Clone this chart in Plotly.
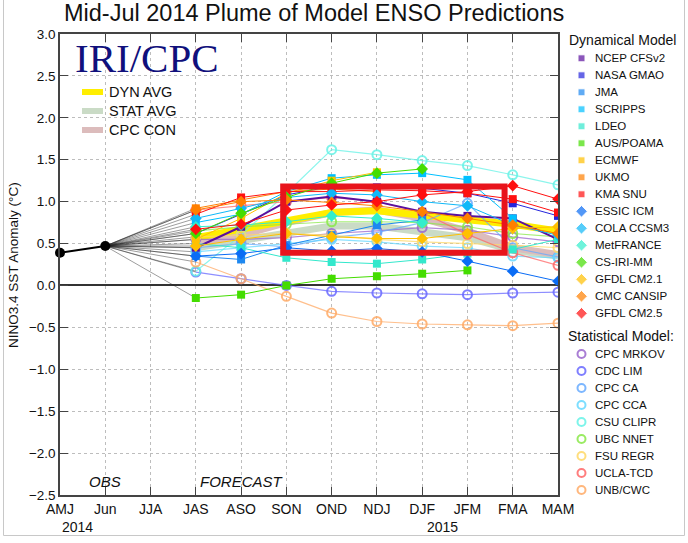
import plotly.graph_objects as go

# ---------------- data ----------------
seasons = ["AMJ", "Jun", "JJA", "JAS", "ASO", "SON", "OND", "NDJ", "DJF", "JFM", "FMA", "MAM"]
year_labels = ["2014", "2015"]
obs_values = [0.39, 0.47]          # AMJ, Jun observed
FIRST_FCST = 3                      # JAS index

# Dynamical models (values from JAS onward)
ncep_cfsv2 = [0.45, 0.70, 1.00, 1.06, 1.00, 0.88, 0.83, 0.80, 0.55]
nasa_gmao = [0.62, 0.85, 1.08, 1.18, 1.17, 1.16, 1.10, 0.98, 0.83]
jma = [0.35, 0.31, 0.48, 0.60, 0.72, 0.78]
scripps = [0.75, 0.85, 1.12, 1.28, 1.32, 1.34, 1.26, 0.80]
ldeo = [0.50, 0.45, 0.33, 0.28, 0.26, 0.31, 0.38, 0.43, 0.55]
aus_poama = [-0.15, -0.11, 0.00, 0.08, 0.11, 0.14, 0.18]
ecmwf = [0.55, 0.80, 1.10, 1.25, 1.35]
ukmo = [0.92, 1.02, 1.12, 1.15, 1.12]
kma_snu = [0.85, 1.05, 1.12, 1.12, 1.14, 1.13, 1.10, 1.03, 0.87]
essic_icm = [0.35, 0.38, 0.45, 0.41, 0.44, 0.40, 0.29, 0.17, 0.05]
cola_ccsm3 = [0.80, 0.92, 1.05, 1.10, 1.08, 1.00, 0.95, 0.72, 0.60]
metfrance = [0.70, 0.72, 0.76, 0.83, 0.80, 0.75]
cs_iri_mm = [0.62, 0.86, 1.05, 1.22, 1.34, 1.39]
gfdl_cm21 = [0.47, 0.55, 0.62, 0.58, 0.56, 0.56, 0.62, 0.68, 0.70]
cmc_cansip = [0.90, 1.00, 1.02, 0.99, 0.95, 0.88, 0.80, 0.72, 0.62]
gfdl_cm25 = [0.67, 0.73, 0.90, 0.96, 1.00, 1.08, 1.12, 1.19, 1.03]

# Statistical models
cpc_mrkov = [0.55, 0.55, 0.57, 0.62, 0.65, 0.69, 0.66, 0.58, 0.52]
cdc_lim = [0.16, 0.08, 0.00, -0.07, -0.09, -0.10, -0.11, -0.09, -0.08]
cpc_ca = [0.45, 0.50, 0.46, 0.57, 0.63, 0.75, 0.98, 0.45, 0.34]
cpc_cca = [0.40, 0.45, 0.50, 0.55, 0.52, 0.47, 0.45, 0.35, 0.33]
csu_clipr = [0.17, 0.60, 1.10, 1.62, 1.56, 1.49, 1.43, 1.32, 1.20]
ubc_nnet = [0.65, 0.70, 0.73, 0.76, 0.76, 0.75, 0.70, 0.62, 0.58]
fsu_regr = [0.58, 0.60, 0.62, 0.60, 0.55, 0.52, 0.50, 0.48, 0.45]
ucla_tcd = [0.90, 0.95, 1.00, 1.05, 1.00, 0.87, 0.61, 0.39, 0.24]
unb_cwc = [0.28, 0.08, -0.13, -0.33, -0.43, -0.46, -0.47, -0.48, -0.45]

# Averages
dyn_avg = [0.57, 0.67, 0.77, 0.87, 0.89, 0.84, 0.79, 0.73, 0.65]
stat_avg = [0.45, 0.53, 0.62, 0.71, 0.71, 0.65, 0.57, 0.42, 0.35]
cpc_con = [0.50, 0.60, 0.75, 0.87, 0.90, 0.80, 0.65, 0.45, 0.37]

highlight_box = [4.93, 9.82, 0.39, 1.18]   # x0, x1 (season index), y0, y1 (anomaly)

# ---------------- styles ----------------
dyn_models = [
    ("NCEP CFSv2", ncep_cfsv2, "#5b0f9e", "square"),
    ("NASA GMAO", nasa_gmao, "#2424dc", "square"),
    ("JMA", jma, "#1e88f0", "square"),
    ("SCRIPPS", scripps, "#00c0ff", "square"),
    ("LDEO", ldeo, "#33e8cc", "square"),
    ("AUS/POAMA", aus_poama, "#44dd00", "square"),
    ("ECMWF", ecmwf, "#ffc000", "square"),
    ("UKMO", ukmo, "#ff8000", "square"),
    ("KMA SNU", kma_snu, "#ff1010", "square"),
    ("ESSIC ICM", essic_icm, "#0a6cf5", "diamond"),
    ("COLA CCSM3", cola_ccsm3, "#10b8f8", "diamond"),
    ("MetFRANCE", metfrance, "#33eecc", "diamond"),
    ("CS-IRI-MM", cs_iri_mm, "#44dd00", "diamond"),
    ("GFDL CM2.1", gfdl_cm21, "#ffc000", "diamond"),
    ("CMC CANSIP", cmc_cansip, "#ff8000", "diamond"),
    ("GFDL CM2.5", gfdl_cm25, "#ff1010", "diamond"),
]
stat_models = [
    ("CPC MRKOV", cpc_mrkov, "#9a66cc"),
    ("CDC LIM", cdc_lim, "#6868ff"),
    ("CPC CA", cpc_ca, "#66aaff"),
    ("CPC CCA", cpc_cca, "#66d8ff"),
    ("CSU CLIPR", csu_clipr, "#66f2e6"),
    ("UBC NNET", ubc_nnet, "#88e848"),
    ("FSU REGR", fsu_regr, "#ffd866"),
    ("UCLA-TCD", ucla_tcd, "#ff6666"),
    ("UNB/CWC", unb_cwc, "#ffaa66"),
]

W, H = 688, 543
PL, PR, PT, PB = 60, 558, 34, 495      # plot area in pixels
FONT = "Liberation Sans, Arial, sans-serif"

def rgba(hexc, a):
    h = hexc.lstrip("#")
    return "rgba(%d,%d,%d,%.2f)" % (int(h[0:2], 16), int(h[2:4], 16), int(h[4:6], 16), a)

fig = go.Figure()

def fx(vals):
    return list(range(FIRST_FCST, FIRST_FCST + len(vals)))

# connectors from last observation to first forecast
for name, vals, col, sym in dyn_models:
    fig.add_trace(go.Scatter(x=[FIRST_FCST - 2, FIRST_FCST], y=[obs_values[-1], vals[0]], mode="lines",
                             line=dict(color="rgba(30,30,30,0.55)", width=0.8), hoverinfo="skip"))
for name, vals, col in stat_models:
    fig.add_trace(go.Scatter(x=[FIRST_FCST - 2, FIRST_FCST], y=[obs_values[-1], vals[0]], mode="lines",
                             line=dict(color="rgba(30,30,30,0.55)", width=0.8), hoverinfo="skip"))

# averages
avg_styles = [("STAT AVG", stat_avg, "#cadbc6", 7), ("CPC CON", cpc_con, "#dcbcbc", 7),
              ("DYN AVG", dyn_avg, "#ffee00", 7)]
for name, vals, col, w in avg_styles:
    fig.add_trace(go.Scatter(x=fx(vals), y=vals, mode="lines", line=dict(color=col, width=w), name=name))

# statistical models
for name, vals, col in stat_models:
    fig.add_trace(go.Scatter(x=fx(vals), y=vals, mode="lines+markers", name=name,
                             line=dict(color=rgba(col, 0.75), width=1.2),
                             marker=dict(symbol="circle-open", size=9, color=rgba(col, 0.85),
                                         line=dict(width=2, color=rgba(col, 0.85)))))
# dynamical models
for name, vals, col, sym in dyn_models:
    fig.add_trace(go.Scatter(x=fx(vals), y=vals, mode="lines+markers", name=name,
                             line=dict(color=col, width=2 if name == "NCEP CFSv2" else 1),
                             marker=dict(symbol=sym, size=8 if sym == "square" else 9, color=col)))

# observations
fig.add_trace(go.Scatter(x=list(range(len(obs_values))), y=obs_values, mode="lines+markers",
                         line=dict(color="black", width=2), marker=dict(color="black", size=10),
                         cliponaxis=False, name="OBS"))

# ---------------- overlay (pixel) axes for legends / text ----------------
dyn_rows = [58.3 + 17.0 * k for k in range(len(dyn_models))]
stat_head_y = dyn_rows[-1] + 22.7
stat_rows = [stat_head_y + 18 + 17.0 * k for k in range(len(stat_models))]
LEG_MX, LEG_TX = 581.5, 594

fig.add_trace(go.Scatter(x=[LEG_MX] * len(dyn_models), y=dyn_rows, mode="markers", xaxis="x3", yaxis="y3",
                         marker=dict(symbol=[m[3] for m in dyn_models], color=[m[2] for m in dyn_models],
                                     size=[7 if m[3] == "square" else 9 for m in dyn_models]),
                         hoverinfo="skip"))
fig.add_trace(go.Scatter(x=[LEG_MX] * len(stat_models), y=stat_rows, mode="markers", xaxis="x3", yaxis="y3",
                         marker=dict(symbol="circle-open", size=8, color=[rgba(m[2], 0.85) for m in stat_models],
                                     line=dict(width=2, color=[rgba(m[2], 0.85) for m in stat_models])),
                         hoverinfo="skip"))

inner_rows = [92, 111, 130]
inner_items = [("DYN AVG", "#ffee00"), ("STAT AVG", "#cadbc6"), ("CPC CON", "#dcbcbc")]
for (label, col), yy in zip(inner_items, inner_rows):
    fig.add_trace(go.Scatter(x=[82, 103], y=[yy, yy], mode="lines", xaxis="x3", yaxis="y3",
                             line=dict(color=col, width=6), hoverinfo="skip"))

annotations = []
def txt(x, y, s, size, xanchor="left", color="#111", family=FONT, italic=False, angle=0):
    annotations.append(dict(x=x, y=y, xref="x3", yref="y3", text=("<i>%s</i>" % s) if italic else s,
                            showarrow=False, xanchor=xanchor, yanchor="middle", textangle=angle,
                            borderpad=0, font=dict(size=size, color=color, family=family)))

txt(314, 13, "Mid-Jul 2014 Plume of Model ENSO Predictions", 23.5, xanchor="center")
txt(13, 265, "NINO3.4 SST Anomaly (°C)", 13.5, xanchor="center", angle=-90)
txt(568, 40, "Dynamical Model", 14)
for (name, vals, col, sym), yy in zip(dyn_models, dyn_rows):
    txt(LEG_TX, yy, name, 11.5)
txt(567, stat_head_y, "Statistical Model:", 14)
for (name, vals, col), yy in zip(stat_models, stat_rows):
    txt(LEG_TX, yy, name, 11.5)
txt(74, 58, "IRI/CPC", 41, color="#10107c", family="Liberation Serif, Times New Roman, serif")
for (label, col), yy in zip(inner_items, inner_rows):
    txt(108, yy, label, 14.5)
txt(105, 481, "OBS", 15, xanchor="center", italic=True)
txt(242, 481, "FORECAST", 15, xanchor="center", italic=True)
txt(77, 527, year_labels[0], 14, xanchor="center")
txt(442, 527, year_labels[1], 14, xanchor="center")

fig.update_layout(
    width=W, height=H, margin=dict(l=0, r=0, t=0, b=0, pad=0, autoexpand=False),
    paper_bgcolor="white", plot_bgcolor="rgba(0,0,0,0)", showlegend=False,
    font=dict(family=FONT, color="#111"),
    annotations=annotations,
    xaxis=dict(domain=[PL / W, PR / W], range=[0, len(seasons) - 1], tickmode="array",
               tickvals=list(range(len(seasons))), ticktext=seasons,
               showgrid=True, gridcolor="#bdbdbd", griddash="dot", gridwidth=1,
               ticks="inside", ticklen=8, tickcolor="#444", showline=True, linecolor="#444", linewidth=1.5,
               mirror="ticks", tickfont=dict(size=14, color="#111"), zeroline=False, automargin=False),
    yaxis=dict(domain=[1 - PB / H, 1 - PT / H], range=[-2.5, 3.0], dtick=0.5, tick0=0, tickformat=".1f",
               showgrid=True, gridcolor="#bdbdbd", griddash="dot", gridwidth=1,
               ticks="inside", ticklen=8, tickcolor="#444", showline=True, linecolor="#444", linewidth=1.5,
               mirror="ticks", tickfont=dict(size=13.5, color="#111"), automargin=False,
               zeroline=True, zerolinecolor="#333", zerolinewidth=2),
    xaxis3=dict(domain=[0, 1], range=[0, W], visible=False, fixedrange=True, automargin=False),
    yaxis3=dict(domain=[0, 1], range=[H, 0], visible=False, fixedrange=True, automargin=False),
    shapes=[
        dict(type="rect", xref="x", yref="y", x0=highlight_box[0], x1=highlight_box[1],
             y0=highlight_box[2], y1=highlight_box[3], line=dict(color="#e8141c", width=6), layer="above"),
        dict(type="rect", xref="x3", yref="y3", x0=3.5, x1=684.5, y0=-2, y1=535.5,
             line=dict(color="#c8c8c8", width=1), layer="below"),
    ],
)

fig.write_html("out.html", config={"displayModeBar": False},
               post_script="document.body.style.margin='0';document.body.style.overflow='hidden';")
